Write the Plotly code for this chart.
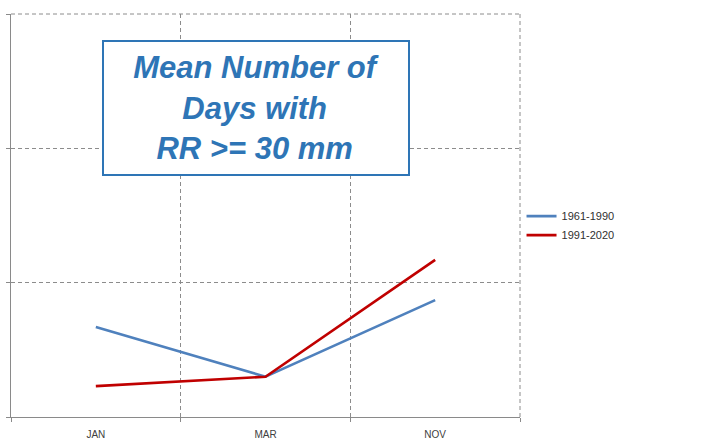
import plotly.graph_objects as go

months = ["JAN", "MAR", "NOV"]
s1961_1990 = [0.67, 0.30, 0.87]
s1991_2020 = [0.23, 0.30, 1.17]
series_names = ["1961-1990", "1991-2020"]
title_lines = ["Mean Number of", "Days with", "RR >= 30 mm"]

fig = go.Figure()
fig.add_trace(go.Scatter(x=months, y=s1961_1990, mode="lines", name=series_names[0],
                         line=dict(color="#4F81BD", width=2.6)))
fig.add_trace(go.Scatter(x=months, y=s1991_2020, mode="lines", name=series_names[1],
                         line=dict(color="#C00000", width=2.6)))

axis_col = "#8A8A8A"
grid_col = "#8C8C8C"

fig.update_layout(
    width=706, height=447,
    margin=dict(l=7, r=186, t=14, b=30),
    paper_bgcolor="white", plot_bgcolor="white",
    font=dict(family="Liberation Sans, Arial, sans-serif", color="#404040"),
    showlegend=True,
    legend=dict(x=1.003, y=0.475, xanchor="left", yanchor="middle",
                font=dict(size=11, color="#303030"), bgcolor="rgba(0,0,0,0)",
                tracegroupgap=0),
    xaxis=dict(
        type="category", range=[-0.5, 2.5], tickson="boundaries",
        showgrid=True, gridcolor=grid_col, griddash="4px,3px", gridwidth=1,
        showline=True, linecolor=axis_col, linewidth=1,
        ticks="outside", ticklen=4, tickcolor=axis_col,
        tickfont=dict(size=10, color="#404040"), ticklabelstandoff=8,
        zeroline=False, fixedrange=True,
    ),
    yaxis=dict(
        range=[0, 3], dtick=1, tick0=0,
        showgrid=True, gridcolor=grid_col, griddash="4px,3px", gridwidth=1,
        showline=True, linecolor=axis_col, linewidth=1,
        ticks="outside", ticklen=4, tickcolor=axis_col,
        showticklabels=False, zeroline=False, fixedrange=True,
    ),
    shapes=[
        dict(type="line", xref="paper", yref="paper", x0=0, x1=1, y0=1, y1=1,
             line=dict(color=grid_col, width=1, dash="4px,3px"), layer="below"),
        dict(type="line", xref="paper", yref="paper", x0=1, x1=1, y0=0, y1=1,
             line=dict(color=grid_col, width=1, dash="4px,3px"), layer="below"),
    ],
    annotations=[dict(
        xref="paper", yref="paper", x=0.4805, y=0.767,
        xanchor="center", yanchor="middle",
        text="<br>".join(title_lines), showarrow=False,
        font=dict(family="Liberation Sans, Arial, sans-serif", size=31,
                  color="#2E75B6", weight="bold", style="italic"),
        align="center", width=300, height=128,
        bordercolor="#2E75B6", borderwidth=2, borderpad=2, bgcolor="white",
    )],
)

fig.write_html("out.html")
